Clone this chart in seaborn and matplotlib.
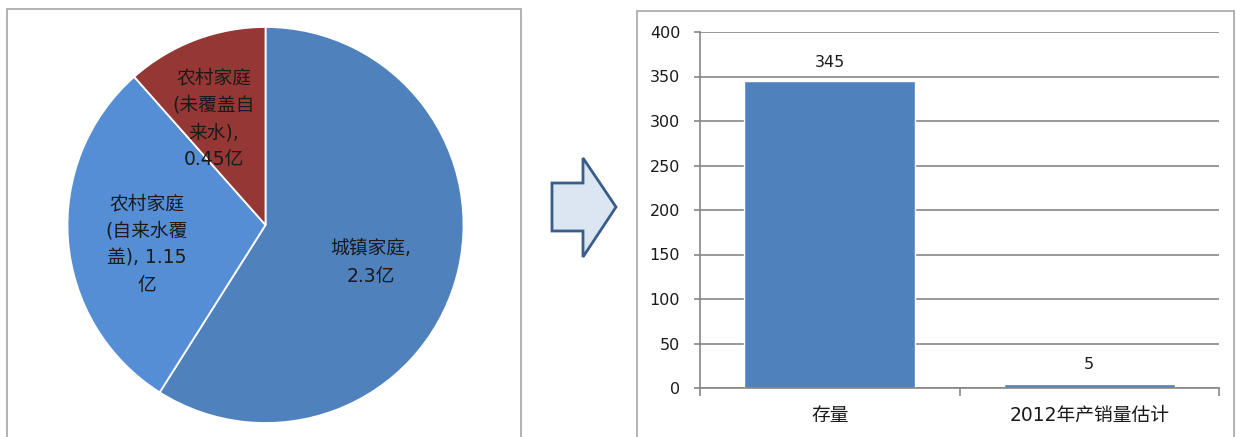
import matplotlib
matplotlib.use('Agg')
import matplotlib.pyplot as plt
import seaborn as sns
import pandas as pd
from matplotlib.patches import Rectangle, Polygon

# ---- data ----
pie_labels = ['城镇家庭,\n2.3亿', '农村家庭\n(自来水覆\n盖), 1.15\n亿', '农村家庭\n(未覆盖自\n来水),\n0.45亿']
pie_values = [2.3, 1.15, 0.45]
pie_colors = ['#4F81BD', '#558ED5', '#953735']

bar_categories = ['存量', '2012年产销量估计']
bar_values = [345, 5]
y_ticks = [0, 50, 100, 150, 200, 250, 300, 350, 400]

sns.set_theme(style='white')
plt.rcParams['font.family'] = ['DejaVu Sans', 'Noto Sans CJK SC']
TEXT = '#1a1a1a'
GRID = '#868686'

W, H = 1236, 437
fig = plt.figure(figsize=(W / 100, H / 100), dpi=100)


def px(x0, y0, x1, y1):
    return [x0 / W, 1 - y1 / H, (x1 - x0) / W, (y1 - y0) / H]


# frames around both panels
for (x0, y0, x1, y1) in [(7, 9, 521, 450), (637, 11, 1234, 450)]:
    fig.patches.append(Rectangle((x0 / W, 1 - y1 / H), (x1 - x0) / W, (y1 - y0) / H,
                                 transform=fig.transFigure, fill=False,
                                 edgecolor='#A6A6A6', lw=1.2, zorder=0))

# ---- pie ----
ax_pie = fig.add_axes(px(67.5, 27, 463.5, 423))
wedges, texts = ax_pie.pie(pie_values, colors=pie_colors, startangle=90, counterclock=False,
                           labels=pie_labels, labeldistance=0.58,
                           wedgeprops=dict(edgecolor='white', linewidth=1.3),
                           textprops=dict(fontsize=13.5, color=TEXT))
label_pos = [(0.53, -0.19), (-0.60, -0.10), (-0.26, 0.535)]
for t, p in zip(texts, label_pos):
    t.set_position(p)
    t.set_ha('center')
    t.set_va('center')
    t.set_linespacing(1.55)
ax_pie.set_xlim(-1, 1)
ax_pie.set_ylim(-1, 1)
ax_pie.set_aspect('equal')
ax_pie.axis('off')

# ---- arrow ----
arrow_px = [(552, 183), (583, 183), (583, 158), (616, 207), (583, 257), (583, 231), (552, 231)]
fig.patches.append(Polygon([(x / W, 1 - y / H) for x, y in arrow_px], closed=True,
                           transform=fig.transFigure, facecolor='#DCE6F2',
                           edgecolor='#385D8A', lw=2.0, joinstyle='miter'))

# ---- bar chart ----
ax = fig.add_axes(px(700, 32, 1219, 388))
df = pd.DataFrame({'cat': bar_categories, 'val': bar_values})
sns.barplot(data=df, x='cat', y='val', color='#4F81BD', saturation=1, width=0.66, ax=ax)
ax.set_xlim(-0.5, 1.5)
ax.set_ylim(0, 400)
ax.set_yticks(y_ticks)
ax.set_xlabel('')
ax.set_ylabel('')
ax.yaxis.grid(True, color=GRID, lw=1.2)
ax.set_axisbelow(True)
for s in ['top', 'right']:
    ax.spines[s].set_visible(False)
for s in ['left', 'bottom']:
    ax.spines[s].set_color(GRID)
    ax.spines[s].set_linewidth(1.2)
ax.set_xticks([-0.5, 0.5, 1.5], minor=True)
ax.tick_params(axis='x', which='major', length=0, labelsize=13.5, colors=TEXT, pad=13)
ax.tick_params(axis='x', which='minor', length=6, width=1.2, color=GRID, direction='out', bottom=True)
ax.tick_params(axis='y', length=4.3, width=1.2, color=GRID, labelsize=11.5, labelcolor=TEXT,
               direction='out', left=True, pad=10)
ax.bar_label(ax.containers[0], padding=8, fontsize=11.5, color=TEXT)

fig.savefig('out.png', dpi=100)
